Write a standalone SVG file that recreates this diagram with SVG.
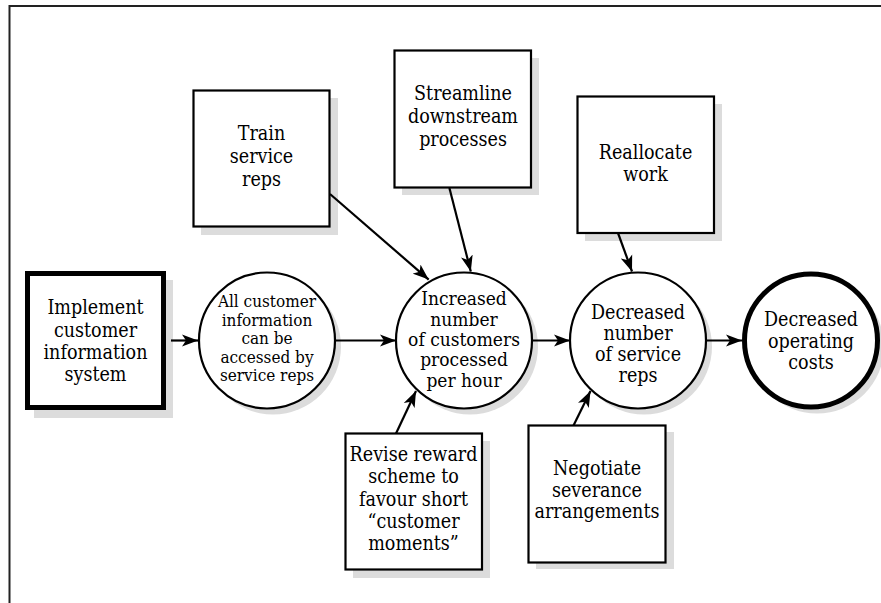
<svg xmlns="http://www.w3.org/2000/svg" width="881" height="603" viewBox="0 0 881 603">
  <style>
    .frame { fill: none; stroke: #222; stroke-width: 2; }
    .shadow { fill: #dcdcdc; stroke: none; }
    .box { fill: #fff; stroke: #000; stroke-width: 2.2; }
    .box-strong { fill: #fff; stroke: #000; stroke-width: 5; }
    .node { fill: #fff; stroke: #000; stroke-width: 2.2; }
    .node-strong { fill: #fff; stroke: #000; stroke-width: 5; }
    .label { font-family: "DejaVu Serif", "Liberation Serif", serif; font-stretch: condensed; font-size: 19.5px; fill: #000; text-anchor: middle; }
    .label-sm { font-size: 17px; }
    .label-md { font-size: 19px; }
    .link { fill: none; stroke: #000; stroke-width: 2.2; marker-end: url(#arrow); }
  </style>
  <defs>
    <marker id="arrow" markerUnits="userSpaceOnUse" markerWidth="17" markerHeight="13" refX="16" refY="6.5" orient="auto">
      <path d="M0,0.5 L16,6.5 L0,12.5 L4,6.5 Z" fill="#000"/>
    </marker>
  </defs>

  <rect width="881" height="603" fill="#fff"/>
  <path class="frame" d="M9.5,603 V6 H881"/>

  <!-- starting action -->
  <g id="implement">
    <rect class="shadow" x="34" y="280" width="139" height="138"/>
    <rect class="box-strong" x="27.5" y="273.5" width="136" height="134"/>
    <text class="label"><tspan x="95.5" y="314">Implement</tspan><tspan x="95.5" y="337">customer</tspan><tspan x="95.5" y="359">information</tspan><tspan x="95.5" y="381">system</tspan></text>
  </g>

  <!-- outcome circles -->
  <g id="access">
    <circle class="shadow" cx="273" cy="346.5" r="68"/>
    <circle class="node" cx="267" cy="340.5" r="68"/>
    <text class="label label-sm"><tspan x="267" y="307">All customer</tspan><tspan x="267" y="325.5">information</tspan><tspan x="267" y="344">can be</tspan><tspan x="267" y="362.5">accessed by</tspan><tspan x="267" y="381">service reps</tspan></text>
  </g>

  <g id="throughput">
    <circle class="shadow" cx="470" cy="346.5" r="68"/>
    <circle class="node" cx="464" cy="340.5" r="68"/>
    <text class="label label-md"><tspan x="464" y="305">Increased</tspan><tspan x="464" y="325.5">number</tspan><tspan x="464" y="346">of customers</tspan><tspan x="464" y="366">processed</tspan><tspan x="464" y="386.5">per hour</tspan></text>
  </g>

  <g id="headcount">
    <circle class="shadow" cx="644" cy="346.5" r="68"/>
    <circle class="node" cx="638" cy="340.5" r="68"/>
    <text class="label"><tspan x="638" y="319">Decreased</tspan><tspan x="638" y="340">number</tspan><tspan x="638" y="361">of service</tspan><tspan x="638" y="382">reps</tspan></text>
  </g>

  <g id="costs">
    <circle class="shadow" cx="817" cy="346.5" r="67"/>
    <circle class="node-strong" cx="811" cy="340.5" r="66.5"/>
    <text class="label"><tspan x="811" y="326">Decreased</tspan><tspan x="811" y="347.5">operating</tspan><tspan x="811" y="369">costs</tspan></text>
  </g>

  <!-- enabling actions above -->
  <g id="train">
    <rect class="shadow" x="201" y="98" width="137" height="137"/>
    <rect class="box" x="193.5" y="90.5" width="136" height="136"/>
    <text class="label"><tspan x="261.5" y="140">Train</tspan><tspan x="261.5" y="163">service</tspan><tspan x="261.5" y="186">reps</tspan></text>
  </g>

  <g id="streamline">
    <rect class="shadow" x="402" y="58" width="137" height="137"/>
    <rect class="box" x="394.5" y="50.5" width="136.5" height="137"/>
    <text class="label"><tspan x="463" y="100">Streamline</tspan><tspan x="463" y="123">downstream</tspan><tspan x="463" y="146">processes</tspan></text>
  </g>

  <g id="reallocate">
    <rect class="shadow" x="585" y="104" width="137" height="137"/>
    <rect class="box" x="577.5" y="96.5" width="136.5" height="136.5"/>
    <text class="label"><tspan x="645.5" y="159">Reallocate</tspan><tspan x="645.5" y="181">work</tspan></text>
  </g>

  <!-- enabling actions below -->
  <g id="reward">
    <rect class="shadow" x="353" y="441" width="137" height="137"/>
    <rect class="box" x="345.5" y="433.5" width="136.5" height="136"/>
    <text class="label"><tspan x="413.5" y="461">Revise reward</tspan><tspan x="413.5" y="483">scheme to</tspan><tspan x="413.5" y="505.5">favour short</tspan><tspan x="413.5" y="527.7">“customer</tspan><tspan x="413.5" y="550">moments”</tspan></text>
  </g>

  <g id="severance">
    <rect class="shadow" x="536" y="432" width="138" height="137"/>
    <rect class="box" x="528.5" y="425.5" width="137" height="137"/>
    <text class="label"><tspan x="597" y="475">Negotiate</tspan><tspan x="597" y="496.5">severance</tspan><tspan x="597" y="518">arrangements</tspan></text>
  </g>

  <!-- connectors -->
  <g id="connectors">
    <line class="link" x1="171" y1="340.5" x2="198" y2="340.5"/>
    <line class="link" x1="335" y1="340.5" x2="396" y2="340.5"/>
    <line class="link" x1="532" y1="340.5" x2="570" y2="340.5"/>
    <line class="link" x1="706" y1="340.5" x2="742" y2="340.5"/>
    <line class="link" x1="330" y1="194" x2="428.7" y2="279.6"/>
    <line class="link" x1="449.4" y1="188" x2="470.8" y2="271.5"/>
    <line class="link" x1="618" y1="233" x2="632" y2="271.5"/>
    <line class="link" x1="396" y1="433.5" x2="416" y2="391"/>
    <line class="link" x1="573.5" y1="425.5" x2="590.5" y2="391"/>
  </g>
</svg>
